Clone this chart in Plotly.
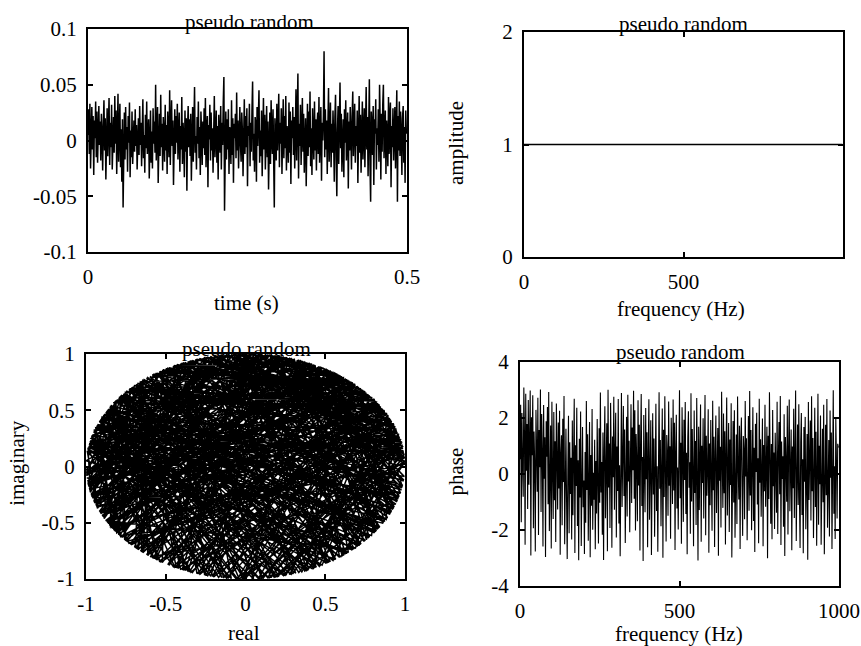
import numpy as np
import plotly.graph_objects as go
from plotly.subplots import make_subplots

# --------------------------------------------------------------
# Data
# --------------------------------------------------------------
# time signal, in thousandths (1 sample per ms, 0 - 0.5 s)
signal_milli = [
    5, 28, -12, 33, -25, 14, 30, -8, 22, -31, 18, 2, 35, -15, 26, -20, 9, 31, -4, 17,
    -18, 24, 6, -27, 13, 36, -9, 20, -35, 11, 29, -14, 3, 38, -22, 16, -6, 32, -26, 8,
    21, -11, 40, -3, 27, -30, 15, 42, -19, 4, 33, -24, 10, -37, 19, -60, 6, 25, -17, 30,
    -8, 12, -28, 22, -2, 34, -33, 9, -15, 26, -21, 1, 18, -10, 28, -5, 14, -26, 7, 20,
    -13, 31, -4, 16, -23, 10, 37, -16, 5, -29, 23, -7, 35, -12, 0, 19, -34, 13, 27, -20,
    8, -25, 29, -3, 17, -11, 50, -18, 12, 30, -38, 6, 24, -14, 41, -6, 15, -27, 21, 3,
    -19, 32, -9, 14, -30, 26, 4, -15, 45, -22, 11, 36, -5, 18, -40, 9, 28, -12, 22, -2,
    33, -17, 7, 25, -28, 13, -8, 39, -21, 16, 2, -33, 27, -10, 20, -45, 10, 31, -6, 19,
    -14, 24, -36, 8, 30, -19, 15, 48, -11, 4, -26, 21, -3, 35, -16, 12, -31, 26, 6, -22,
    17, -7, 29, -13, 38, -24, 9, 22, -42, 14, 1, 32, -18, 25, -9, 11, -29, 20, 40, -15,
    7, 27, -20, 13, -35, 23, 3, -11, 31, -26, 16, -4, 34, 57, -63, 10, 26, -17, 19, -8,
    28, -30, 12, 5, -21, 36, -13, 20, -38, 15, 2, 24, -16, 43, -9, 18, -25, 11, 30, -3,
    -19, 25, 8, -32, 17, 37, -12, 22, -6, 29, -41, 13, 4, 33, -23, 16, -10, 26, 53, -18,
    6, -28, 21, 14, -37, 30, -5, 19, 45, -20, 9, -14, 27, -32, 12, 38, -8, 23, -26, 3,
    31, -15, 17, -44, 10, 25, -21, 36, 1, -12, 28, -35, -60, 20, 7, -18, 33, -9, 14, 42,
    -24, 16, -3, 29, -30, 11, 37, -16, 22, -7, 40, -27, 13, 5, -20, 34, -11, 26, -39, 18,
    2, 30, -13, 21, -25, 9, 46, -18, 27, 60, -34, 15, -5, 32, -22, 12, 38, -10, 24, -29,
    8, 20, -41, 17, 33, -14, 26, -6, 44, -23, 11, -31, 29, 4, -17, 35, -9, 19, -27, 13,
    25, -12, 39, -20, 7, 30, -36, 16, 0, 22, 80, -15, 28, -8, 18, -30, 12, 47, -19, 6,
    34, -24, 15, -11, 27, 3, -37, 21, 41, -16, -50, 9, 31, -21, 14, 52, -7, 24, -28, 10,
    19, -33, 28, -2, 36, -18, 12, 25, -43, 17, -9, 30, 5, -26, 22, 44, -14, 8, 33, -20,
    13, -5, 27, -38, 18, 40, -11, 23, -29, 10, 35, -17, 2, 29, -24, 15, 48, -8, 21, -32,
    9, 55, -22, -55, 26, 14, -13, 31, -40, 19, 6, 37, -26, 11, -4, 28, -19, 50, 16, -35,
    24, -10, 32, 50, -16, 7, 27, -30, 18, 3, -23, 39, -12, 21, 34, -42, 13, -6, 29, -18,
    17, 30, -25, 11, 45, -55, 22, -9, 35, -14, 26, 4, -31, 20, 31, -20, 12, -38, 27, 6,
]

# phase of the spectrum, radians (one value every 2 Hz, 0 - 998 Hz)
phase_rad = [
    0.53, 2.47, -1.72, 2.18, 0.36, -0.81, 3.09, 1.44, -2.53, 2.87, 0.12, 1.79, -1.25, 2.64, -0.38, 1.06, 2.98, -2.91, 2.03, 0.67,
    2.81, -1.94, 1.52, 0.41, -2.77, 2.29, 0.96, -0.63, 2.72, -2.18, 1.57, 0.24, 3.02, -1.36, 2.14, 0.83, -2.59, 2.46, -0.17, 1.31,
    -2.96, 1.88, 0.62, 2.39, -1.08, 2.93, -2.04, 0.87, 1.73, -2.66, 2.58, 0.05, -1.61, 2.21, -0.94, 1.17, -2.43, 2.52, 0.39, -1.27,
    1.84, -0.52, 2.26, -2.88, 0.74, 1.38, -1.83, 1.97, -0.29, 2.79, -2.51, 0.93, 1.62, -0.97, -3.04, 0.16, 2.08, -2.12, 1.13, -0.71,
    0.58, -2.34, 1.91, -1.47, 0.27, 2.69, -2.82, 1.03, -0.43, 2.37, -1.86, 0.49, -3.08, 1.26, -0.84, 2.23, -2.57, 0.09, 1.68, -1.19,
    -0.23, -2.86, 0.79, -1.74, 2.61, -0.57, 1.42, -2.38, 0.33, 1.86, -2.97, 0.68, -1.13, 2.32, -1.99, 0.04, -0.92, 1.22, -2.69, 0.46,
    -1.41, 1.96, -0.34, -2.48, 1.63, -1.03, 2.91, -0.66, 0.43, -2.17, 1.48, -3.07, 0.88, 2.42, -1.58, 0.21, 1.81, -2.76, 3.01, -0.48,
    1.09, -1.93, 2.54, 0.59, -2.63, 1.34, -0.12, 2.76, -1.28, 0.82, 2.19, -2.27, 0.98, -0.61, 2.68, -1.77, 0.31, -2.94, 1.87, 2.89,
    -1.18, 0.91, 2.43, -0.79, 1.59, -2.46, 0.37, 2.04, -1.52, 2.83, -0.27, 1.19, -2.08, 0.72, 2.49, -1.04, 1.66, 0.13, 2.97, -0.88,
    2.28, -2.02, 1.43, 0.47, -1.69, 2.63, -0.41, 1.76, -2.73, 1.08, 2.86, -1.14, 0.61, -3.11, 2.11, 0.03, -1.37, 2.36, -0.19, 1.49,
    -2.62, 0.81, 2.67, -1.63, 0.18, 1.92, -2.89, 1.02, 2.17, -0.73, 1.27, -2.24, 0.57, 2.51, -1.32, 0.28, -2.78, 1.71, 2.92, -0.53,
    1.21, -1.87, 0.38, 2.34, -2.99, 1.58, -0.82, 2.78, 0.14, -2.41, 1.39, 0.73, -1.49, 2.59, -0.42, 0.99, -2.31, 2.01, 0.52, -1.07,
    2.66, -0.59, 1.83, -2.71, 0.86, 2.12, -1.23, 0.23, -1.98, 1.54, 2.99, -0.87, 1.12, -2.49, 2.38, 0.63, -1.71, 1.94, -0.21, 2.57,
    -1.43, 0.76, -2.87, 1.29, 2.24, -0.49, 0.42, -2.13, 2.88, -0.98, 1.61, 0.02, -2.58, 2.27, -0.68, 1.18, -1.82, 2.71, 0.32, -3.09,
    1.69, -1.29, 0.64, 2.48, -2.42, 1.01, -0.32, 1.99, -1.59, 0.89, 2.82, -2.19, 1.37, -0.78, 0.19, 2.31, -2.81, 1.09, -1.12, 1.93,
    0.51, -2.03, 2.62, -0.58, 1.33, -2.61, 0.78, 2.09, -1.39, 0.08, 1.64, -2.92, 2.41, -0.24, 0.97, -1.91, 2.94, 0.43, -1.21, 2.16,
    -0.69, 1.53, -2.52, 0.92, 2.73, -1.48, 0.29, 1.82, -2.07, 1.23, -0.39, 2.53, -2.98, 0.71, 1.89, -1.02, 2.28, -2.28, 0.59, 1.41,
    -1.79, 2.77, 0.22, -0.91, 1.72, -2.68, 1.14, 2.02, -0.47, -2.21, 1.36, 0.84, -1.62, 2.61, -0.09, 1.28, -2.37, 0.48, 2.07, -1.31,
    2.96, -0.77, 1.57, -2.01, 0.44, 2.38, -1.68, 0.94, -2.79, 1.79, 0.07, 2.19, -1.09, 0.56, -2.47, 2.69, -0.31, 1.24, -1.53, 0.66,
    1.98, -2.58, 1.04, -0.62, 2.47, -1.17, 0.34, 1.69, -3.01, 1.37, -0.89, 2.92, 0.54, -1.78, 1.07, -2.33, 2.29, -0.44, 0.77, -1.96,
    1.47, 0.11, -1.38, 2.58, -2.14, 0.68, 1.86, -0.72, 2.79, -2.54, 1.16, -0.18, 0.63, -1.88, 2.13, -2.93, 1.32, 0.38, -0.99, 2.44,
    -2.16, 0.88, 2.66, -1.33, 0.24, 1.59, -2.72, 0.98, -0.51, 2.33, -1.57, 0.79, 2.98, -2.39, 0.26, 1.77, -1.11, 2.49, -0.83, -2.64,
    1.14, 2.18, -1.46, 0.53, -2.83, 1.68, -0.28, 2.04, -1.97, 0.61, 1.43, -3.06, 2.57, -0.93, 0.11, 1.91, -1.66, 2.78, -0.62, 1.29,
    -2.29, 0.83, 2.37, -1.18, 1.51, -2.56, 0.17, 2.87, -1.81, 1.01, -0.37, 2.09, -2.53, 0.69, 1.62, -1.01, 2.47, -2.87, 0.41, 1.76,
    -0.76, 2.68, -1.92, 0.58, 1.21, -2.23, 2.27, -0.13, 1.48, -2.68, 0.92, 2.99, -1.42, 0.28, -2.32, 1.97, 0.49, -1.59, 1.08, 0.94,
]

sample_step_s = 0.001
freq_step_hz = 2

time_s = [i * sample_step_s for i in range(len(signal_milli))]
signal = [v / 1000 for v in signal_milli]
freq_hz = [i * freq_step_hz for i in range(len(phase_rad))]
amplitude = [1.0] * len(freq_hz)

# complex spectrum = amplitude * exp(j*phase)
spectrum = np.array(amplitude) * np.exp(1j * np.array(phase_rad))
real_part = spectrum.real
imag_part = spectrum.imag

# tick values / labels
time_ticks = [0, 0.5]
time_ticktext = ["0", "0.5"]
signal_ticks = [-0.1, -0.05, 0, 0.05, 0.1]
signal_ticktext = ["-0.1", "-0.05", "0", "0.05", "0.1"]
freq_ticks = [0, 500, 1000]
freq_ticktext = ["0", "500", "1000"]
amp_ticks = [0, 1, 2]
amp_ticktext = ["0", "1", "2"]
unit_ticks = [-1, -0.5, 0, 0.5, 1]
unit_ticktext = ["-1", "-0.5", "0", "0.5", "1"]
phase_ticks = [-4, -2, 0, 2, 4]
phase_ticktext = ["-4", "-2", "0", "2", "4"]

# --------------------------------------------------------------
# Figure
# --------------------------------------------------------------
W, H = 861, 646
FONT = "Liberation Serif"
FS = 21


def px_x(v):
    return v / W


def px_y(v):
    return 1 - v / H


fig = make_subplots(rows=2, cols=2)

fig.add_trace(go.Scatter(x=time_s, y=signal, mode="lines",
                         line=dict(color="black", width=1.5)), row=1, col=1)
fig.add_trace(go.Scatter(x=freq_hz, y=amplitude, mode="lines",
                         line=dict(color="black", width=1.6)), row=1, col=2)
fig.add_trace(go.Scatter(x=real_part, y=imag_part, mode="lines",
                         line=dict(color="black", width=1.5)), row=2, col=1)
fig.add_trace(go.Scatter(x=freq_hz, y=phase_rad, mode="lines",
                         line=dict(color="black", width=1.1)), row=2, col=2)

# plot boxes in window pixels: (left, right, top, bottom)
boxes = {
    (1, 1): (88, 407, 29, 252),
    (1, 2): (524, 843, 32, 257),
    (2, 1): (86, 405, 354, 579),
    (2, 2): (520, 839, 362, 586),
}

axis_style = dict(
    showline=True, linecolor="black", linewidth=2, mirror="ticks",
    ticks="inside", ticklen=5, tickwidth=1.5, tickcolor="black",
    showgrid=False, zeroline=False, automargin=False,
    tickfont=dict(family=FONT, size=FS, color="black"),
    ticklabelstandoff=5,
)

xsetup = {
    (1, 1): ([0, 0.5], time_ticks, time_ticktext),
    (1, 2): ([0, 1000], freq_ticks, freq_ticktext),
    (2, 1): ([-1, 1], unit_ticks, unit_ticktext),
    (2, 2): ([0, 1000], freq_ticks, freq_ticktext),
}
ysetup = {
    (1, 1): ([-0.1, 0.1], signal_ticks, signal_ticktext),
    (1, 2): ([0, 2], amp_ticks, amp_ticktext),
    (2, 1): ([-1, 1], unit_ticks, unit_ticktext),
    (2, 2): ([-4, 4], phase_ticks, phase_ticktext),
}

for (r, c), (l, rt, t, b) in boxes.items():
    xr, xv, xt = xsetup[(r, c)]
    yr, yv, yt = ysetup[(r, c)]
    fig.update_xaxes(domain=[px_x(l), px_x(rt)], range=xr, tickvals=xv, ticktext=xt,
                     row=r, col=c, **axis_style)
    fig.update_yaxes(domain=[px_y(b), px_y(t)], range=yr, tickvals=yv, ticktext=yt,
                     row=r, col=c, **axis_style)

# titles and axis labels as annotations (window pixel positions)
labels = [
    ("pseudo random", 249.7, 22.5, 0),
    ("pseudo random", 683.3, 24.5, 0),
    ("pseudo random", 246.7, 348.5, 0),
    ("pseudo random", 680.8, 352, 0),
    ("time (s)", 246.7, 303, 0),
    ("frequency (Hz)", 681, 309, 0),
    ("real", 244, 632.5, 0),
    ("frequency (Hz)", 679, 634, 0),
    ("amplitude", 456.7, 143.3, -90),
    ("imaginary", 17.5, 463.3, -90),
    ("phase", 455.8, 471.7, -90),
]
for text, x0, y0, ang in labels:
    fig.add_annotation(text=text, x=px_x(x0), y=px_y(y0), xref="paper", yref="paper",
                       xanchor="center", yanchor="middle", showarrow=False, textangle=ang,
                       font=dict(family=FONT, size=FS, color="black"))

fig.update_layout(
    width=W, height=H,
    margin=dict(l=0, r=0, t=0, b=0),
    paper_bgcolor="white",
    plot_bgcolor="white",
    showlegend=False,
)

# drop the default page margin so the figure sits at the window corner
fig.write_html("out.html", config={"displayModeBar": False},
               post_script="document.body.style.margin='0';document.body.style.overflow='hidden';")
